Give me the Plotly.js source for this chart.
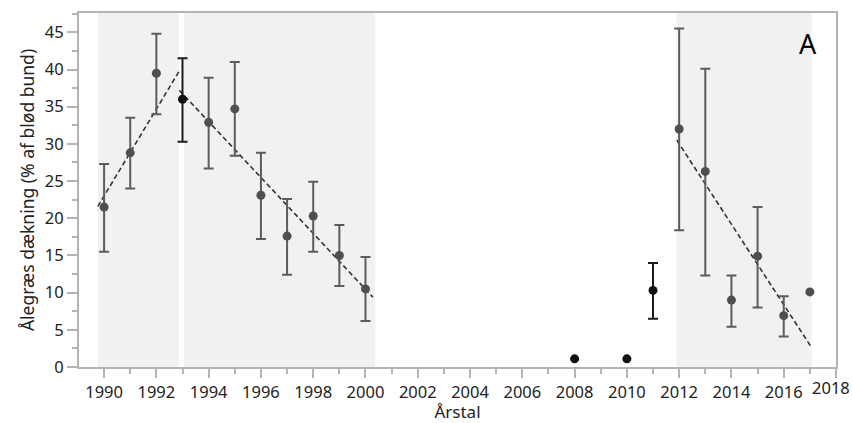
<!DOCTYPE html>
<html>
<head>
<meta charset="utf-8">
<script src="https://cdn.plot.ly/plotly-3.0.1.min.js"></script>
<style>html,body{margin:0;padding:0;background:#fff;}#chart{width:853px;height:423px;}</style>
</head>
<body>
<div id="chart"></div>
<script>
// Gray (main series) observations
const yearsGray = [1990, 1991, 1992, 1994, 1995, 1996, 1997, 1998, 1999, 2000, 2012, 2013, 2014, 2015, 2016, 2017];
const meanGray  = [21.5, 28.8, 39.5, 32.9, 34.7, 23.1, 17.6, 20.3, 15.0, 10.5, 32.0, 26.3, 9.0, 14.9, 6.9, 10.1];
const upperGray = [27.3, 33.5, 44.8, 38.9, 41.0, 28.8, 22.6, 24.9, 19.1, 14.8, 45.5, 40.1, 12.3, 21.5, 9.5, null];
const lowerGray = [15.5, 24.0, 34.0, 26.7, 28.4, 17.2, 12.4, 15.5, 10.9, 6.2, 18.4, 12.3, 5.4, 8.0, 4.1, null];

// Black observations
const yearsBlack = [1993, 2008, 2010, 2011];
const meanBlack  = [36.0, 1.1, 1.1, 10.3];
const upperBlack = [41.5, null, null, 14.0];
const lowerBlack = [30.3, null, null, 6.5];

// Trend lines (dashed), endpoints
const trend1X = [1989.76, 1992.91]; const trend1Y = [21.6, 40.0];
const trend2X = [1992.88, 2000.28]; const trend2Y = [37.2, 9.4];
const trend3X = [2011.91, 2017.05]; const trend3Y = [30.5, 2.7];

// Shaded periods
const periodStart = [1989.76, 1993.06, 2011.90];
const periodEnd   = [1992.87, 2000.37, 2017.07];

// x tick labels (the last one sits at the right edge and is drawn shifted left so it fits)
const xTickVals = [1990,1992,1994,1996,1998,2000,2002,2004,2006,2008,2010,2012,2014,2016,2018];
const lastTickLabel = '2018';

const errPlus = (m, u) => m.map((v, i) => u[i] - v);
const errMinus = (m, l) => m.map((v, i) => v - l[i]);

function errArr(mean, up, lo, color){
  return {type:'data', symmetric:false, array: errPlus(mean, up), arrayminus: errMinus(mean, lo),
          color: color, thickness: 2, width: 5};
}

// points without a confidence interval go in a separate trace
function splitTraces(years, mean, up, lo, color, mcolor){
  const wX=[],wY=[],wU=[],wL=[],nX=[],nY=[];
  years.forEach((y,i)=>{ if(up[i]!=null){wX.push(y);wY.push(mean[i]);wU.push(up[i]);wL.push(lo[i]);} else {nX.push(y);nY.push(mean[i]);} });
  return [
    {x:wX, y:wY, type:'scatter', mode:'markers', marker:{color:mcolor, size:9}, error_y: errArr(wY,wU,wL,color), showlegend:false},
    {x:nX, y:nY, type:'scatter', mode:'markers', marker:{color:mcolor, size:9}, showlegend:false}
  ];
}

const dashLine = (x,y)=>({x:x, y:y, type:'scatter', mode:'lines', line:{color:'#333', width:1.6, dash:'5px,3px'}, showlegend:false});

const traces = [
  dashLine(trend1X, trend1Y), dashLine(trend2X, trend2Y), dashLine(trend3X, trend3Y),
  ...splitTraces(yearsGray, meanGray, upperGray, lowerGray, '#5c5c5c', '#4f4f4f'),
  ...splitTraces(yearsBlack, meanBlack, upperBlack, lowerBlack, '#1a1a1a', '#111111')
];

const shapes = periodStart.map((s,i)=>({type:'rect', xref:'x', yref:'paper', x0:s, x1:periodEnd[i], y0:0, y1:1,
  fillcolor:'#f1f1f1', line:{width:0}, layer:'below'}));

const axisColor = '#b4b4b4';
const fontFam = '"Noto Sans", "Open Sans", sans-serif';
const tickFontSize = 16.5;

const layout = {
  width: 853, height: 423,
  margin: {l:79, r:17, t:13, b:56},
  paper_bgcolor:'#fff', plot_bgcolor:'#fff',
  font: {family: fontFam, color:'#222', size:16},
  showlegend:false,
  shapes: shapes,
  xaxis: {
    range:[1989.04, 2018], tickvals: xTickVals,
    ticktext: xTickVals.map(v => v === xTickVals[xTickVals.length-1] ? '' : String(v)),
    showgrid:false, zeroline:false, showline:true, linecolor:axisColor, linewidth:2, mirror:true,
    ticks:'outside', ticklen:9, tickcolor:axisColor, tickwidth:2,
    minor:{dtick:1, tick0:1990, ticks:'outside', ticklen:5, tickcolor:axisColor, tickwidth:2},
    tickfont:{size:tickFontSize, color:'#222'},
    title:{text:'Årstal', font:{size:17, color:'#222'}, standoff:5}
  },
  yaxis: {
    range:[0, 47.6], dtick:5, tick0:0,
    showgrid:false, zeroline:false, showline:true, linecolor:axisColor, linewidth:2, mirror:true,
    ticks:'outside', ticklen:10, tickcolor:axisColor, tickwidth:2,
    minor:{dtick:2.5, ticks:'outside', ticklen:5, tickcolor:axisColor, tickwidth:2},
    tickfont:{size:tickFontSize, color:'#222'},
    title:{text:'Ålegræs dækning (% af blød bund)', font:{size:17.5, color:'#222'}, standoff:6}
  },
  annotations:[
    {text:'A', xref:'paper', yref:'paper', x:0.963, y:0.915, xanchor:'center', yanchor:'middle',
     showarrow:false, font:{size:27, color:'#000', family: fontFam}},
    {text:lastTickLabel, xref:'paper', yref:'paper', x:1.0195, y:-0.059, xanchor:'right', yanchor:'middle',
     showarrow:false, borderpad:0, font:{size:tickFontSize, color:'#222', family: fontFam}}
  ]
};

Plotly.newPlot('chart', traces, layout, {displayModeBar:false, staticPlot:true});
</script>
</body>
</html>
